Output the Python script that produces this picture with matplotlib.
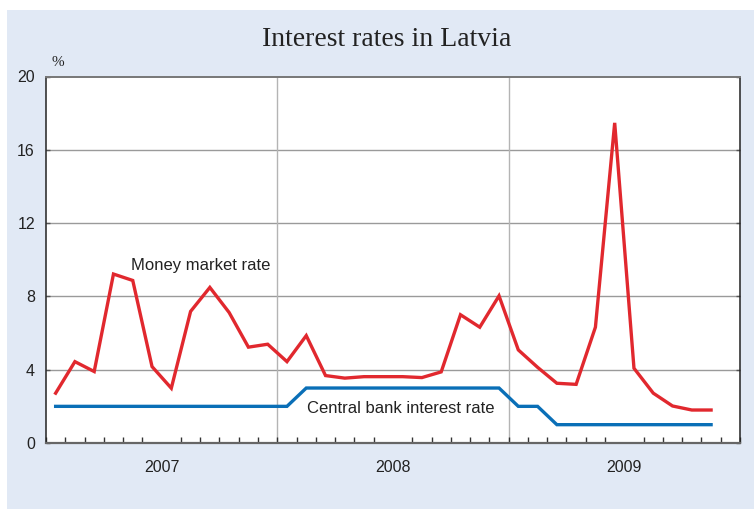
import numpy as np
import matplotlib
matplotlib.use("Agg")
import matplotlib.pyplot as plt
from matplotlib.patches import Rectangle

# monthly data, Jan 2007 - Nov 2009
money_market = [2.72, 4.44, 3.90, 9.22, 8.87, 4.17, 2.99, 7.18, 8.49, 7.12,
                5.23, 5.39, 4.44, 5.86, 3.68, 3.54, 3.62, 3.62, 3.62, 3.57,
                3.88, 7.00, 6.32, 8.03, 5.08, 4.13, 3.26, 3.20, 6.32, 17.47,
                4.08, 2.72, 2.02, 1.80, 1.80]
central_bank = [2.0] * 13 + [3.0] * 11 + [2.0] * 2 + [1.0] * 9
years = ['2007', '2008', '2009']
yticks = [0, 4, 8, 12, 16, 20]

red = '#e1282e'
blue = '#0a6fb7'
panel = '#e1e9f5'

fig = plt.figure(figsize=(7.54, 5.09), dpi=100)
fig.patches.append(Rectangle((7 / 754, 0), 1, 499 / 509, transform=fig.transFigure,
                             facecolor=panel, edgecolor='none', zorder=-10))

ax = fig.add_axes([46 / 754, 66 / 509, 694 / 754, 366.5 / 509])
ax.set_facecolor('white')

months = np.arange(len(money_market)) + 0.5
ax.plot(months, central_bank, color=blue, lw=2.4, solid_joinstyle='miter', zorder=3)
ax.plot(months, money_market, color=red, lw=2.4, solid_joinstyle='miter', zorder=4)

ax.set_xlim(0, 36)
ax.set_ylim(0, 20)

# horizontal grid
for y in yticks[1:-1]:
    ax.axhline(y, color='#9a9a9a', lw=1.0, zorder=1)
for x in [12, 24]:
    ax.axvline(x, color='#b4b4b4', lw=1.0, zorder=1)

ax.set_yticks(yticks)
ax.tick_params(axis='y', direction='in', length=3, width=1, color='#555555',
               left=True, right=True, labelsize=11.5, labelcolor='#222222', pad=8)
ax.set_xticks(np.arange(0, 37), minor=True)
ax.set_xticks([6, 18, 30])
ax.set_xticklabels(years)
ax.tick_params(axis='x', which='major', length=0, labelsize=11.5, labelcolor='#222222', pad=12)
ax.tick_params(axis='x', which='minor', direction='in', length=4, width=1, color='#333333')

for s in ['left', 'right']:
    ax.spines[s].set_color('#222222')
    ax.spines[s].set_linewidth(1.1)
ax.spines['top'].set_color('#777777')
ax.spines['top'].set_linewidth(1.4)
ax.spines['bottom'].set_color('#666666')
ax.spines['bottom'].set_linewidth(1.6)

ax.text(4.41, 9.67, 'Money market rate', fontsize=12, color='#222222',
        family='Liberation Sans', va='center', ha='left')
ax.text(13.54, 1.86, 'Central bank interest rate', fontsize=12, color='#222222',
        family='Liberation Sans', va='center', ha='left')

fig.text(387 / 754, 1 - 40 / 509, 'Interest rates in Latvia', fontsize=20,
         family='Liberation Serif', color='#222222', ha='center', va='center')
fig.text(58 / 754, 1 - 63 / 509, '%', fontsize=11, family='Liberation Serif',
         color='#222222', ha='center', va='center')

for lbl in ax.get_xticklabels() + ax.get_yticklabels():
    lbl.set_family('Liberation Sans')

fig.savefig('out.png', dpi=100)
